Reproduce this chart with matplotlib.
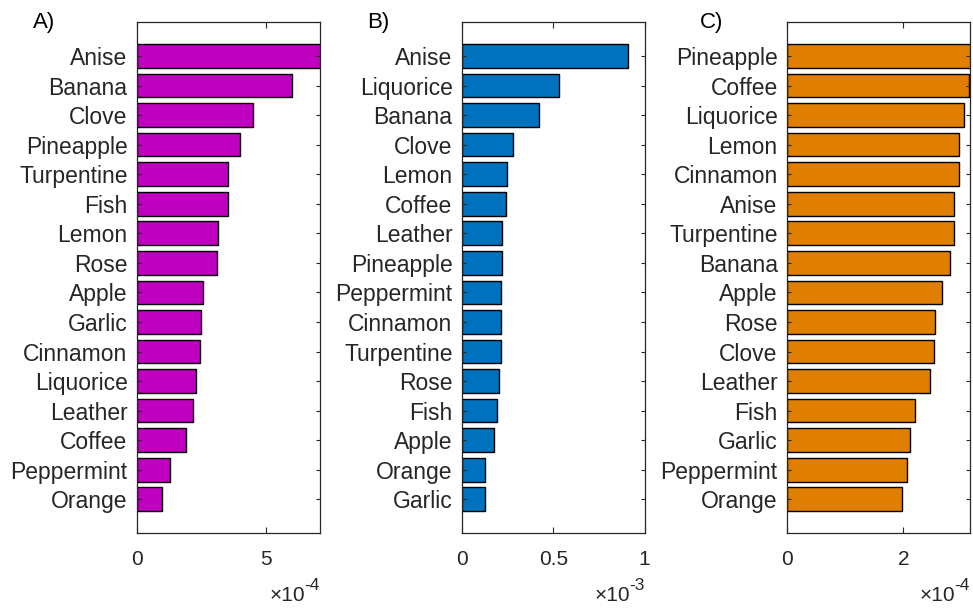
import matplotlib
matplotlib.use("Agg")
import matplotlib.pyplot as plt
from matplotlib.ticker import FuncFormatter

plt.rcParams['font.family'] = ['Liberation Sans', 'DejaVu Sans']

# Panel A
names_a = ['Anise', 'Banana', 'Clove', 'Pineapple', 'Turpentine', 'Fish', 'Lemon', 'Rose',
           'Apple', 'Garlic', 'Cinnamon', 'Liquorice', 'Leather', 'Coffee', 'Peppermint', 'Orange']
values_a = [7.15e-4, 6.0e-4, 4.5e-4, 3.98e-4, 3.53e-4, 3.53e-4, 3.14e-4, 3.09e-4,
            2.56e-4, 2.49e-4, 2.43e-4, 2.30e-4, 2.17e-4, 1.91e-4, 1.27e-4, 0.96e-4]

# Panel B
names_b = ['Anise', 'Liquorice', 'Banana', 'Clove', 'Lemon', 'Coffee', 'Leather', 'Pineapple',
           'Peppermint', 'Cinnamon', 'Turpentine', 'Rose', 'Fish', 'Apple', 'Orange', 'Garlic']
values_b = [0.908e-3, 0.529e-3, 0.421e-3, 0.276e-3, 0.247e-3, 0.239e-3, 0.219e-3, 0.219e-3,
            0.212e-3, 0.212e-3, 0.211e-3, 0.203e-3, 0.192e-3, 0.176e-3, 0.122e-3, 0.122e-3]

# Panel C
names_c = ['Pineapple', 'Coffee', 'Liquorice', 'Lemon', 'Cinnamon', 'Anise', 'Turpentine', 'Banana',
           'Apple', 'Rose', 'Clove', 'Leather', 'Fish', 'Garlic', 'Peppermint', 'Orange']
values_c = [3.2e-4, 3.13e-4, 3.04e-4, 2.95e-4, 2.95e-4, 2.87e-4, 2.87e-4, 2.81e-4,
            2.66e-4, 2.55e-4, 2.52e-4, 2.46e-4, 2.20e-4, 2.11e-4, 2.06e-4, 1.97e-4]

panels = [
    ('A)', names_a, values_a, '#BF00BF', 7.08e-4, [0, 5e-4], 1e-4, '-4'),
    ('B)', names_b, values_b, '#0072BD', 1.0e-3, [0, 0.5e-3, 1e-3], 1e-3, '-3'),
    ('C)', names_c, values_c, '#DF7E00', 3.14e-4, [0, 2e-4], 1e-4, '-4'),
]

lefts = [0.1411, 0.4751, 0.8092]
title_x = [33 / 973, 367 / 973, 700 / 973]
dark = '#262626'

fig = plt.figure(figsize=(9.73, 6.08), dpi=100)

for i, (title, names, values, color, xmax, ticks, scale, expo) in enumerate(panels):
    ax = fig.add_axes([lefts[i], 0.1229, 0.1873, 0.8409])
    pos = list(range(len(names)))
    ax.barh(pos, values, height=0.8, color=color, edgecolor='black', linewidth=1.0)
    ax.set_ylim(len(names) - 1 + 1.15, -1.15)
    ax.set_xlim(0, xmax)
    ax.set_yticks(pos)
    ax.set_yticklabels(names)
    ax.set_xticks(ticks)
    ax.xaxis.set_major_formatter(FuncFormatter(lambda v, p, s=scale: '%g' % round(v / s, 6)))
    ax.tick_params(axis='y', direction='in', length=3, width=0.8, color=dark,
                   left=True, right=True, labelsize=16.5, labelcolor=dark, pad=7)
    ax.tick_params(axis='x', direction='in', length=4, width=0.8, color=dark,
                   bottom=True, top=True, labelsize=15, labelcolor=dark, pad=12)
    for s in ax.spines.values():
        s.set_color(dark)
        s.set_linewidth(0.9)
    # exponent label, MATLAB style
    ax.annotate(expo, xy=(1, 0), xycoords='axes fraction', xytext=(0, -57),
                textcoords='offset pixels', ha='right', va='baseline', fontsize=12.5, color=dark)
    ax.annotate('×10', xy=(1, 0), xycoords='axes fraction', xytext=(-14, -68),
                textcoords='offset pixels', ha='right', va='baseline', fontsize=15, color=dark)
    fig.text(title_x[i], 1 - 28 / 608, title, fontsize=16, color='black', va='baseline', ha='left')

plt.savefig('out.png', dpi=100)
